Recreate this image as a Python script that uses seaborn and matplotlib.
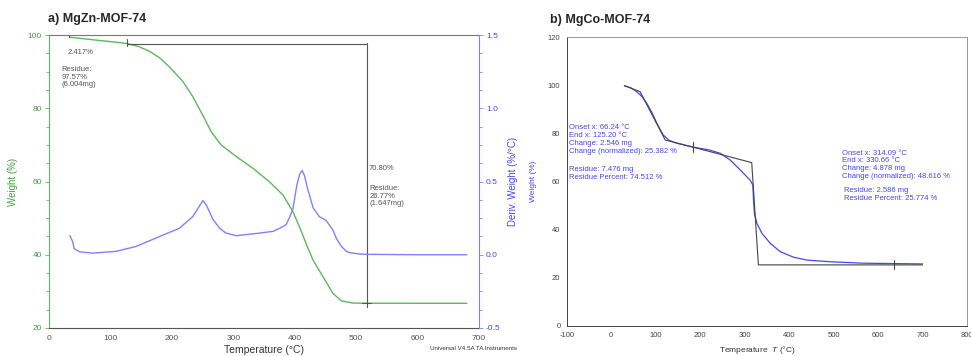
import matplotlib
matplotlib.use("Agg")
import matplotlib.pyplot as plt
import seaborn as sns
import pandas as pd
from matplotlib.ticker import AutoMinorLocator, MultipleLocator, FormatStrFormatter

sns.set_style("white")
plt.rcParams['font.family'] = ['Liberation Sans', 'DejaVu Sans']
plt.rcParams['axes.unicode_minus'] = False
plt.rcParams['mathtext.fontset'] = 'custom'
plt.rcParams['mathtext.it'] = 'Liberation Sans:italic'
plt.rcParams['mathtext.rm'] = 'Liberation Sans'

# ---- Panel a) MgZn-MOF-74 ----
temp_a_weight = [33, 50, 77, 100, 126, 145, 163, 180, 196, 218, 234, 250, 264, 280, 305, 332,
                 359, 381, 397, 411, 421, 430, 446, 462, 476, 495, 517, 600, 680]
weight_a = [99.4, 99.1, 98.6, 98.2, 97.7, 96.9, 95.6, 93.8, 91.3, 87.3, 83.2, 78.2, 73.6, 70.0,
            66.8, 63.6, 59.9, 56.3, 51.8, 46.3, 42.0, 38.5, 34.0, 29.5, 27.4, 26.8, 26.77,
            26.75, 26.75]
temp_a_deriv = [34, 38.5, 41, 50, 71, 109, 142, 180, 212, 234, 243, 250.5, 256, 261, 267, 278,
                288, 305, 326, 343, 365, 376, 386, 392, 397, 403, 408, 412, 416, 421, 430, 440,
                451, 462, 468, 476, 484, 490, 506, 517, 600, 680]
deriv_a = [0.13, 0.09, 0.041, 0.02, 0.011, 0.023, 0.057, 0.125, 0.18, 0.26, 0.32, 0.37, 0.34,
           0.295, 0.24, 0.18, 0.148, 0.13, 0.14, 0.148, 0.16, 0.182, 0.205, 0.26, 0.31, 0.466,
           0.55, 0.575, 0.54, 0.45, 0.32, 0.26, 0.235, 0.17, 0.11, 0.057, 0.023, 0.014, 0.005,
           0.003, 0.0, 0.0]

# ---- Panel b) MgCo-MOF-74 ----
temp_b = [29.7, 45, 57.5, 70, 80, 92, 102.5, 117, 130, 147, 185, 220, 245, 267.5, 290, 312,
          318.5, 320, 322, 327.5, 339, 357.5, 380, 410, 440, 492.5, 567.5, 700]
weight_b = [99.9, 98.9, 97.4, 95.2, 92.6, 88.6, 84.3, 79.4, 77.2, 76.0, 74.3, 73.2, 71.8, 69.0,
            64.9, 60.7, 58.6, 52.4, 46.9, 42.7, 38.5, 34.4, 30.9, 28.6, 27.4, 26.7, 26.1, 25.8]
tangent_t = [29.7, 65, 121.5, 185, 316, 331, 700]
tangent_w = [99.9, 97.4, 77.3, 74.3, 67.9, 25.4, 25.4]

df_aw = pd.DataFrame({"T": temp_a_weight, "W": weight_a})
df_ad = pd.DataFrame({"T": temp_a_deriv, "D": deriv_a})
df_b = pd.DataFrame({"T": temp_b, "W": weight_b})
df_bt = pd.DataFrame({"T": tangent_t, "W": tangent_w})

W, H = 971, 356
fig = plt.figure(figsize=(W / 100, H / 100), dpi=100)

green = "#5cb85c"
green_txt = "#3f9f3f"
blue_l = "#8080ff"
blue_r = "#4646f0"
gray = "#555555"

# ---------- left panel ----------
ax = fig.add_axes([49 / W, 1 - 328 / H, (479 - 49) / W, (328 - 35) / H])
ax2 = ax.twinx()
sns.lineplot(data=df_aw, x="T", y="W", ax=ax, color=green, lw=1.0)
sns.lineplot(data=df_ad, x="T", y="D", ax=ax2, color=blue_l, lw=1.0)
ax.set_xlim(0, 700)
ax.set_ylim(20, 100)
ax2.set_ylim(-0.5, 1.5)
ax.xaxis.set_major_locator(MultipleLocator(100))
ax.xaxis.set_minor_locator(AutoMinorLocator(4))
ax.yaxis.set_major_locator(MultipleLocator(20))
ax.yaxis.set_minor_locator(AutoMinorLocator(4))
ax2.yaxis.set_major_locator(MultipleLocator(0.5))
ax2.yaxis.set_minor_locator(AutoMinorLocator(4))
ax2.yaxis.set_major_formatter(FormatStrFormatter('%.1f'))
for s in ax.spines.values():
    s.set_linewidth(0.8)
ax.spines['left'].set_color(green)
ax.spines['bottom'].set_color(gray)
ax.spines['top'].set_color("#777777")
ax.spines['right'].set_visible(False)
for s in ['left', 'top', 'bottom']:
    ax2.spines[s].set_visible(False)
ax2.spines['right'].set_color(blue_l)
ax2.spines['right'].set_linewidth(0.8)
ax.tick_params(axis='x', which='both', direction='out', colors=gray, labelsize=6, length=3, width=0.6, pad=2)
ax.tick_params(axis='x', which='minor', length=2)
ax.tick_params(axis='y', which='both', direction='out', colors=green, labelcolor=green_txt, labelsize=6, length=3, width=0.6, pad=2)
ax.tick_params(axis='y', which='minor', length=2)
ax2.tick_params(axis='y', which='both', direction='out', colors=blue_l, labelcolor=blue_r, labelsize=6, length=3, width=0.6, pad=2)
ax2.tick_params(axis='y', which='minor', length=2)
ax.set_xlabel("Temperature (°C)", fontsize=7.5, color="#333333", labelpad=2)
ax.set_ylabel("Weight (%)", fontsize=7, color=green_txt)
ax.yaxis.set_label_coords(-0.071, 0.5)
ax2.set_ylabel("Deriv. Weight (%/°C)", fontsize=7, color=blue_r, labelpad=5)

# step annotations
ax.plot([33, 33], [100, 99.4], color=gray, lw=0.8)
ax.plot([127, 127], [99.0, 96.9], color=gray, lw=0.8)
ax.plot([127, 517], [97.57, 97.57], color=gray, lw=0.8)
ax.plot([517, 517], [97.9, 25.8], color=gray, lw=0.8)
ax.plot([510, 524], [26.77, 26.77], color=gray, lw=0.8)
ax.text(30, 95.3, "2.417%", fontsize=5.5, color=gray, ha="left", va="center")
ax.text(20, 88.5, "Residue:\n97.57%\n(6.004mg)", fontsize=5.5, color=gray, ha="left", va="center", linespacing=1.05)
ax.text(520, 63.5, "70.80%", fontsize=5.5, color=gray, ha="left", va="center")
ax.text(522, 56, "Residue:\n26.77%\n(1.647mg)", fontsize=5.5, color=gray, ha="left", va="center", linespacing=1.05)

fig.text(48 / W, 1 - 19 / H, "a) MgZn-MOF-74", fontsize=9, fontweight="bold", ha="left", va="center")
fig.text(430 / W, 1 - 349 / H, "Universal V4.5A TA Instruments", fontsize=4.5, color="#333333", ha="left", va="center")

# ---------- right panel ----------
bx = fig.add_axes([566.7 / W, 1 - 326 / H, (967 - 566.7) / W, (326 - 37.3) / H])
sns.lineplot(data=df_b, x="T", y="W", ax=bx, color=blue_r, lw=0.9)
sns.lineplot(data=df_bt, x="T", y="W", ax=bx, color="#444444", lw=0.8, sort=False)
bx.plot([185, 185], [72.3, 76.3], color="#444444", lw=0.8)
bx.plot([636.5, 636.5], [23.5, 27.3], color="#444444", lw=0.8)
bx.set_xlim(-100, 800)
bx.set_ylim(0, 120)
bx.xaxis.set_major_locator(MultipleLocator(100))
bx.xaxis.set_minor_locator(AutoMinorLocator(4))
bx.yaxis.set_major_locator(MultipleLocator(20))
bx.yaxis.set_minor_locator(AutoMinorLocator(4))
for s in bx.spines.values():
    s.set_color("#999999")
    s.set_linewidth(0.7)
bx.spines['left'].set_color("#444444")
bx.spines['bottom'].set_color("#444444")
bx.tick_params(axis='both', which='both', direction='out', colors="#444444", labelsize=5.5, length=2.5, width=0.6, pad=2)
bx.tick_params(axis='both', which='minor', length=1.5)
bx.set_xlabel("Temperature  $\\mathit{T}$ (°C)", fontsize=6, color="#333333")
bx.xaxis.set_label_coords(0.475, -0.062)
bx.set_ylabel("Weight (%)", fontsize=6, color=blue_r)
bx.yaxis.set_label_coords(-0.074, 0.5)

txt1 = ("Onset x: 66.24 °C\nEnd x: 125.20 °C\nChange: 2.546 mg\nChange (normalized): 25.382 %")
txt2 = "Residue: 7.476 mg\nResidue Percent: 74.512 %"
txt3 = ("Onset x: 314.09 °C\nEnd x: 330.66 °C\nChange: 4.878 mg\nChange (normalized): 48.616 %")
txt4 = "Residue: 2.586 mg\nResidue Percent: 25.774 %"
bx.text(-94, 83.8, txt1, fontsize=5.5, color=blue_r, ha="left", va="top", linespacing=1.15)
bx.text(-94, 66.4, txt2, fontsize=5.5, color=blue_r, ha="left", va="top", linespacing=1.15)
bx.text(520, 73.3, txt3, fontsize=5.5, color=blue_r, ha="left", va="top", linespacing=1.15)
bx.text(524, 57.6, txt4, fontsize=5.5, color=blue_r, ha="left", va="top", linespacing=1.15)

fig.text(550 / W, 1 - 20 / H, "b) MgCo-MOF-74", fontsize=9, fontweight="bold", ha="left", va="center")

fig.savefig("out.png", dpi=100)
